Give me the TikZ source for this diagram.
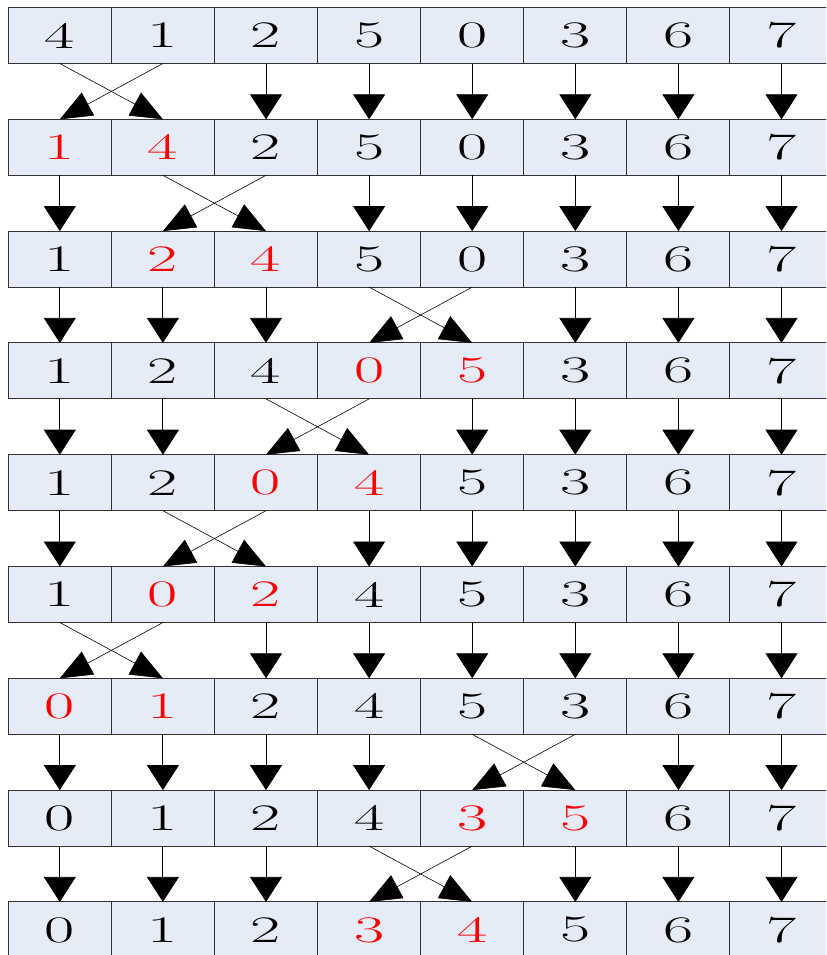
\documentclass[tikz,border=0pt]{standalone}
\usepackage{graphicx}
\usetikzlibrary{arrows.meta}
\definecolor{bsortfill}{RGB}{230,236,247}
\definecolor{bsortedge}{RGB}{50,50,50}
\newcommand{\bsortdigit}[1]{\scalebox{1.75}[1]{#1}}

\begin{document}
\begin{tikzpicture}[
  x=0.03cm, y=-0.03cm,
  bsortcell/.style = {draw=bsortedge, line width=0.9pt, fill=bsortfill,
    minimum width=3.093cm, minimum height=1.68cm, inner sep=0pt, outer sep=0pt,
    font=\fontsize{32}{36}\selectfont},
  bsortarr/.style = {-{Triangle[width=0.96cm, length=0.75cm]}, line width=0.7pt},
  bsortcross/.style = {-{Triangle[width=0.78cm, length=0.96cm]}, line width=0.5pt}
]
  \path[use as bounding box, clip] (0,0) rectangle (826,955);
  % rows: row / values / first position of the swapped pair (0 = none)
  \foreach \row/\vals/\sw in {1/{4,1,2,5,0,3,6,7}/0, 2/{1,4,2,5,0,3,6,7}/1,
      3/{1,2,4,5,0,3,6,7}/2, 4/{1,2,4,0,5,3,6,7}/4, 5/{1,2,0,4,5,3,6,7}/3,
      6/{1,0,2,4,5,3,6,7}/2, 7/{0,1,2,4,5,3,6,7}/1, 8/{0,1,2,4,3,5,6,7}/5,
      9/{0,1,2,3,4,5,6,7}/4}{
    \foreach \v [count=\col] in \vals {
      \pgfmathtruncatemacro{\isred}{(\sw>0) && ((\col==\sw) || (\col==\sw+1))}
      \ifnum\isred=1 \def\tc{red}\else\def\tc{black}\fi
      \node[bsortcell, text=\tc] (c-\row-\col)
        at ({59.8+103.1*(\col-1)}, {35.5+111.8*(\row-1)}) {\bsortdigit{\v}};
    }
  }
  % arrows between rows, crossed where a pair is swapped
  \foreach \row/\sw in {1/1, 2/2, 3/4, 4/3, 5/2, 6/1, 7/5, 8/4}{
    \pgfmathtruncatemacro{\nx}{\row+1}
    \foreach \col in {1,...,8}{
      \pgfmathtruncatemacro{\tgt}{\col==\sw ? \col+1 : (\col==\sw+1 ? \col-1 : \col)}
      \ifnum\tgt=\col
        \draw[bsortarr] (c-\row-\col.south) -- (c-\nx-\tgt.north);
      \else
        \draw[bsortcross] (c-\row-\col.south) -- (c-\nx-\tgt.north);
      \fi
    }
  }
\end{tikzpicture}
\end{document}
